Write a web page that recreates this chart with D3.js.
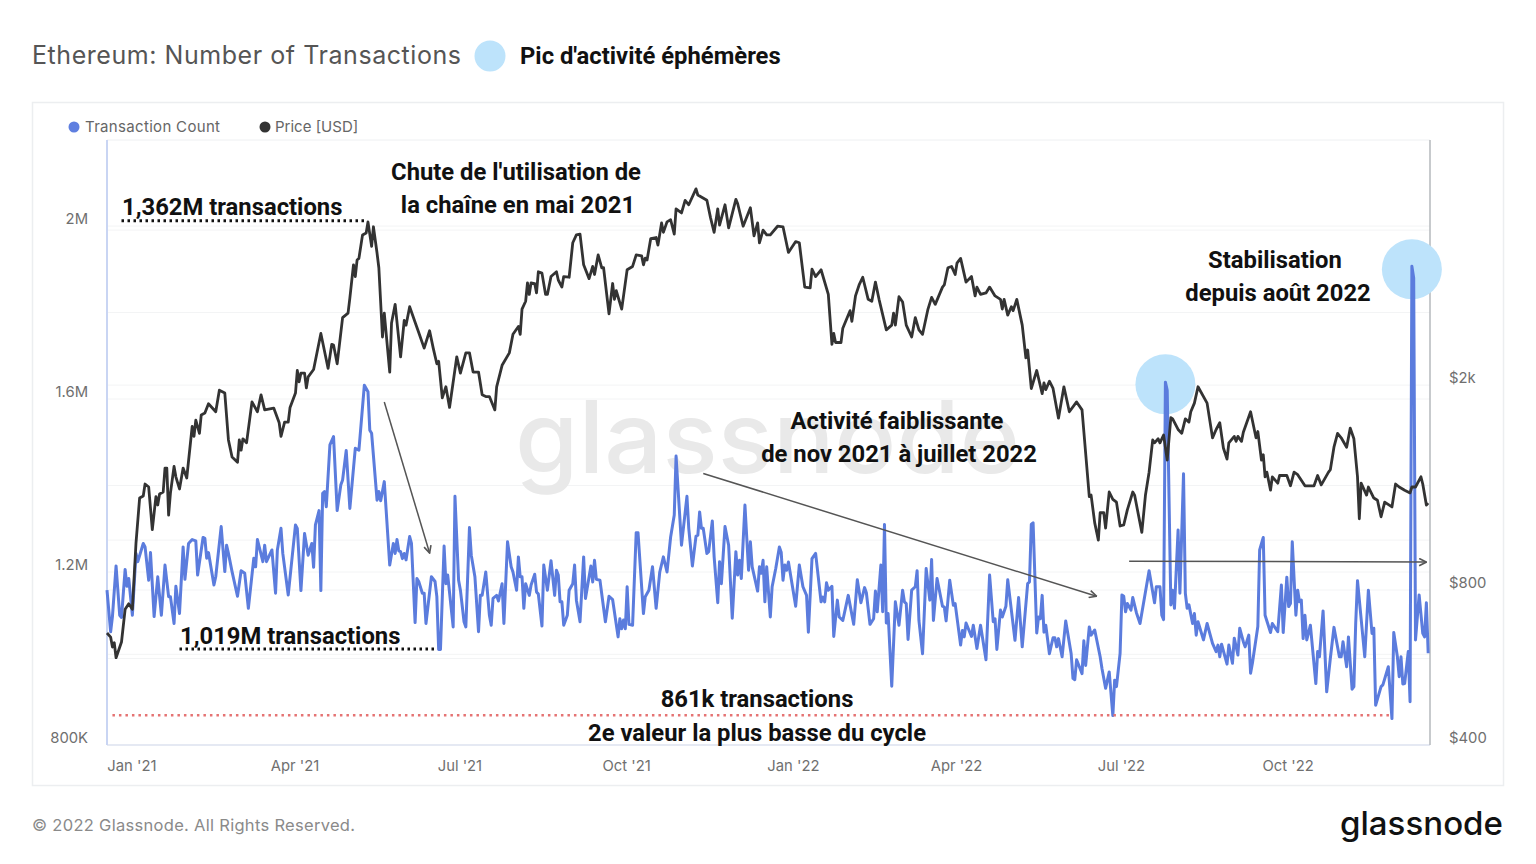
<!DOCTYPE html>
<html>
<head>
<meta charset="utf-8">
<script src="https://cdnjs.cloudflare.com/ajax/libs/d3/7.8.5/d3.min.js"></script>
<style>
  html, body { margin: 0; padding: 0; background: #fff; }
  svg { display: block; }
  text { font-family: Inter, "Noto Sans", sans-serif; }
  .note { font-family: Roboto, sans-serif; font-weight: 700; font-size: 23.8px; fill: #111; }
</style>
</head>
<body>
<svg id="chart" width="1536" height="864"></svg>
<script>
const startDate = Date.UTC(2020, 11, 18);

// [days since startDate, transactions in thousands]
const txSeries = [
  [0,1158],[2,1062],[3,1097],[5,1214],[7,1100],[8,1095],[10,1206],[11,1167],[12,1185],[14,1100],[16,1243],[17,1224],
  [20,1266],[21,1258],[23,1181],[24,1245],[26,1097],[28,1189],[30,1100],[32,1216],[34,1143],[35,1143],[37,1081],[38,1167],
  [40,1104],[42,1258],[43,1183],[45,1266],[47,1275],[49,1272],[50,1193],[53,1280],[54,1278],[55,1232],[56,1245],[59,1170],
  [60,1189],[63,1305],[65,1201],[66,1262],[67,1243],[69,1201],[72,1144],[74,1203],[76,1197],[78,1116],[81,1232],[82,1212],
  [83,1275],[86,1224],[87,1262],[88,1224],[91,1251],[93,1151],[94,1251],[96,1301],[97,1243],[100,1147],[104,1309],[105,1301],
  [107,1157],[109,1289],[111,1239],[113,1266],[114,1211],[115,1309],[117,1342],[118,1157],[119,1382],[120,1386],[121,1351],
  [123,1494],[125,1513],[127,1342],[129,1401],[130,1413],[132,1481],[134,1347],[137,1486],[139,1482],[142,1632],[144,1617],
  [145,1528],[146,1521],[149,1366],[150,1386],[151,1365],[153,1409],[156,1216],[158,1266],[159,1243],[160,1275],[161,1249],
  [162,1247],[163,1231],[164,1243],[165,1228],[167,1282],[168,1266],[170,1083],[171,1185],[172,1178],[174,1151],[175,1151],
  [176,1081],[179,1189],[181,1178],[182,1143],[183,1021],[184,1021],[186,1260],[187,1173],[188,1193],[191,1073],[192,1375],
  [194,1181],[195,1158],[197,1085],[198,1073],[200,1303],[201,1239],[203,1189],[205,1062],[206,1146],[207,1146],[209,1200],
  [211,1100],[212,1077],[213,1139],[215,1146],[216,1133],[218,1173],[219,1081],[221,1270],[223,1212],[224,1200],[226,1158],
  [227,1235],[228,1189],[229,1189],[230,1116],[231,1173],[233,1146],[234,1170],[236,1195],[237,1154],[238,1149],[240,1075],
  [241,1216],[243,1158],[245,1226],[247,1146],[248,1204],[249,1193],[250,1131],[251,1131],[252,1077],[254,1100],[255,1158],
  [257,1173],[258,1216],[259,1135],[261,1085],[263,1235],[264,1139],[267,1214],[268,1177],[269,1227],[270,1183],[272,1181],
  [275,1085],[277,1144],[279,1136],[282,1050],[283,1092],[284,1069],[285,1089],[286,1069],[287,1166],[288,1079],[290,1077],
  [292,1291],[293,1291],[296,1104],[297,1143],[299,1158],[301,1212],[303,1116],[305,1200],[307,1235],[309,1200],[311,1281],
  [313,1332],[314,1468],[317,1262],[320,1375],[321,1301],[323,1214],[325,1283],[326,1285],[327,1339],[328,1301],[329,1301],
  [331,1243],[332,1247],[334,1318],[335,1235],[337,1129],[338,1224],[339,1173],[341,1305],[343,1262],[345,1093],[347,1247],
  [348,1193],[349,1227],[350,1185],[352,1355],[354,1204],[355,1270],[356,1212],[359,1156],[360,1212],[361,1197],[362,1227],
  [363,1131],[364,1212],[366,1096],[367,1166],[369,1208],[371,1258],[372,1246],[373,1181],[374,1216],[375,1204],[376,1223],
  [380,1121],[382,1216],[384,1166],[386,1146],[387,1061],[389,1231],[391,1243],[394,1131],[395,1142],[396,1131],[397,1175],
  [398,1158],[400,1167],[401,1051],[403,1135],[404,1096],[406,1088],[409,1146],[412,1079],[414,1182],[416,1129],[418,1164],
  [419,1152],[421,1079],[423,1092],[424,1156],[425,1108],[427,1216],[428,1108],[429,1310],[430,1082],[431,1104],[433,936],
  [435,1131],[437,1077],[439,1158],[440,1131],[441,1127],[442,1044],[444,1158],[446,1166],[447,1203],[448,1088],[450,1011],
  [452,1208],[454,1135],[455,1229],[456,1088],[458,1185],[461,1121],[462,1119],[463,1087],[465,1181],[467,1123],[468,1127],
  [471,1031],[472,1065],[473,1050],[474,1082],[477,1051],[478,1077],[480,1023],[482,1077],[485,997],[487,1193],[489,1085],
  [490,1092],[491,1021],[493,1112],[494,1096],[496,1121],[497,1182],[501,1042],[503,1141],[505,1027],[508,1173],[509,1177],
  [510,1310],[511,1314],[513,1059],[514,1096],[515,1092],[516,1146],[517,1061],[518,1077],[520,1011],[522,1048],[523,1048],
  [524,1027],[525,1046],[527,1004],[529,1087],[532,1011],[533,954],[534,951],[535,997],[538,965],[539,1041],[540,984],
  [542,1073],[543,1054],[545,1066],[548,1004],[549,977],[551,931],[553,969],[555,868],[556,950],[557,935],[559,1012],
  [560,1147],[561,1144],[562,1108],[563,1127],[565,1112],[566,1141],[568,1106],[570,1081],[575,1203],[578,1129],[579,1166],
  [581,1166],[582,1100],[583,1090],[584,1639],[585,1620],[587,1124],[588,1158],[589,1116],[591,1297],[592,1151],[594,1427],
  [595,1151],[596,1116],[597,1124],[599,1081],[600,1104],[601,1054],[602,1085],[605,1043],[607,1081],[610,1035],[612,1016],
  [613,1031],[614,1004],[615,1033],[618,987],[619,1031],[621,989],[622,1047],[624,1008],[625,1070],[627,1039],[628,1027],
  [630,1054],[631,966],[632,989],[635,1074],[636,1251],[638,1280],[639,1100],[642,1060],[643,1081],[646,1062],[648,1170],
  [649,1060],[651,1188],[652,1120],[653,1127],[654,1270],[656,1100],[657,1158],[658,1131],[659,1135],[660,1046],[661,1100],
  [662,1043],[664,1077],[667,942],[668,1016],[669,1004],[671,1110],[673,923],[675,1000],[677,1072],[680,1004],[681,1004],
  [682,1039],[684,981],[685,1050],[687,929],[688,935],[689,1081],[690,1180],[694,1004],[696,1158],[698,1058],[699,1070],
  [700,892],[703,935],[704,939],[707,981],[709,861],[710,1060],[712,1004],[713,958],[714,1004],[715,941],[716,942],
  [718,1016],[719,900],[720,1907],[721,1880],[722,1043],[724,1147],[726,1058],[727,1050],[728,1129],[729,1012]
];

// [days since startDate, ETH price in USD]
const priceSeries = [
  [0,660],[2,648],[3,620],[4,632],[5,591],[8,634],[10,734],[12,752],[14,734],[16,987],[18,1207],[20,1218],[21,1285],[23,1268],
  [25,1048],[27,1215],[28,1170],[29,1229],[31,1240],[32,1380],[33,1380],[34,1118],[35,1234],[37,1390],[38,1327],[40,1257],
  [42,1380],[44,1320],[47,1662],[48,1590],[49,1710],[51,1612],[52,1750],[54,1765],[56,1840],[60,1775],[62,1955],[65,1930],
  [67,1565],[69,1450],[72,1416],[73,1565],[74,1495],[75,1573],[77,1545],[80,1855],[83,1775],[85,1915],[87,1790],[92,1805],
  [95,1690],[96,1590],[98,1695],[100,1695],[101,1810],[104,1930],[105,2135],[106,2030],[107,2110],[109,2110],[110,1975],
  [111,2075],[114,2145],[118,2520],[122,2155],[124,2400],[125,2392],[127,2200],[130,2705],[133,2760],[134,2950],[136,3425],
  [137,3250],[138,3500],[139,3525],[141,3915],[143,3950],[144,4150],[146,3720],[147,4060],[149,3610],[150,3380],[152,2480],
  [153,2760],[156,2120],[157,2640],[159,2870],[162,2270],[164,2670],[165,2615],[167,2840],[170,2650],[172,2530],[175,2360],
  [178,2550],[180,2360],[182,2200],[183,2225],[185,1890],[187,1985],[189,1810],[193,2270],[195,2110],[198,2310],[200,2310],
  [202,2120],[205,2120],[207,1915],[209,1900],[211,1900],[214,1790],[215,1985],[218,2185],[222,2310],[224,2510],[227,2600],
  [228,2510],[229,2810],[231,2910],[232,3160],[233,3000],[234,3160],[236,3150],[237,3020],[238,3320],[240,3300],[242,3000],
  [243,3000],[245,3250],[248,3320],[249,3200],[251,3100],[252,3250],[255,3240],[257,3780],[259,3915],[261,3930],[263,3425],
  [266,3220],[268,3400],[269,3280],[271,3580],[273,3380],[274,3380],[277,2750],[279,3150],[280,2935],[281,3050],[284,2810],
  [287,3350],[290,3400],[292,3580],[295,3565],[296,3425],[297,3530],[298,3500],[300,3850],[303,3870],[304,3740],[306,4130],
  [307,3960],[309,4150],[311,4190],[313,3930],[314,4400],[317,4320],[319,4570],[321,4480],[325,4810],[326,4680],[331,4570],
  [333,4230],[335,3960],[337,4400],[338,4090],[341,4480],[343,4040],[347,4590],[348,4500],[351,4070],[355,4420],[357,3900],
  [359,4130],[360,3780],[362,4000],[364,3915],[366,3915],[370,4070],[373,4060],[376,3620],[380,3800],[382,3780],[385,3100],
  [388,3090],[389,3360],[391,3250],[394,3350],[398,3000],[400,2400],[401,2520],[402,2420],[405,2420],[406,2580],[410,2790],
  [411,2660],[413,2980],[415,3130],[417,3240],[420,2935],[422,2910],[424,3170],[426,2935],[430,2560],[433,2615],[434,2760],
  [435,2615],[437,2970],[439,2900],[441,2615],[444,2480],[446,2705],[448,2560],[450,2510],[453,2810],[455,2960],[457,2870],
  [461,3100],[462,3130],[464,3380],[466,3400],[468,3280],[469,3450],[471,3525],[474,3170],[477,3250],[479,2980],[480,3100],
  [482,3000],[485,3020],[487,3100],[490,2980],[493,2935],[494,2810],[495,2935],[497,2735],[499,2840],[500,2790],[502,2935],
  [505,2615],[507,2260],[508,2340],[510,1970],[513,2135],[516,1925],[517,2020],[518,1960],[520,2035],[522,1970],[525,1725],
  [528,1985],[531,1775],[535,1855],[538,1790],[542,1215],[543,1223],[545,1080],[547,1000],[548,1130],[550,1130],[551,1055],
  [553,1240],[555,1200],[557,1185],[559,1065],[561,1070],[563,1145],[566,1240],[567,1223],[571,1035],[573,1223],[575,1355],
  [577,1565],[578,1545],[580,1573],[581,1545],[583,1600],[585,1430],[587,1730],[588,1720],[591,1640],[593,1612],[595,1720],
  [597,1695],[598,1775],[600,1845],[602,1985],[607,1845],[610,1580],[612,1640],[614,1690],[616,1510],[618,1436],[619,1545],
  [622,1590],[623,1555],[624,1590],[626,1555],[627,1620],[631,1775],[634,1580],[635,1625],[637,1430],[638,1465],[639,1327],
  [640,1355],[642,1250],[643,1327],[646,1290],[647,1335],[651,1335],[653,1275],[655,1355],[657,1340],[661,1275],[666,1275],
  [668,1335],[670,1280],[674,1355],[675,1370],[677,1515],[679,1612],[681,1580],[684,1515],[686,1650],[688,1573],[690,1327],
  [691,1100],[692,1290],[695,1223],[696,1268],[699,1207],[701,1195],[703,1110],[705,1185],[709,1160],[711,1285],[713,1268],
  [716,1250],[719,1235],[720,1268],[722,1268],[725,1327],[726,1285],[728,1170],[729,1180]
];

const txTicks = [800, 1200, 1600, 2000];
const txGrid = [800, 1000, 1200, 1400, 1600, 1800, 2000];
const priceTicks = [400, 800, 2000];
const priceGrid = [400, 600, 800, 1000, 2000, 4000];
const monthTicks = [[2021, 0], [2021, 3], [2021, 6], [2021, 9], [2022, 0], [2022, 3], [2022, 6], [2022, 9]];

const peakCircles = [[584, 1634], [720, 1900]];

const svg = d3.select("#chart");
const dayMs = 86400000;
const plotLeft = 107, plotRight = 1430, plotTop = 140, plotBottom = 745;

const x = d3.scaleUtc()
  .domain([new Date(startDate), new Date(startDate + 730 * dayMs)])
  .range([plotLeft, plotRight]);
const dayX = d => x(new Date(startDate + d * dayMs));
const yTx = d3.scaleLinear().domain([800, 2199]).range([plotBottom, plotTop]);
const yPrice = d3.scaleLog().domain([400, 5985]).range([plotBottom, plotTop]);

// frame
svg.append("rect").attr("x", 32.5).attr("y", 102.5).attr("width", 1471).attr("height", 683)
  .attr("fill", "#fff").attr("stroke", "#eceef0").attr("stroke-width", 1.5);

// title row
svg.append("text").attr("x", 32).attr("y", 64).attr("font-size", 25).attr("fill", "#555")
  .attr("textLength", 429).text("Ethereum: Number of Transactions");
svg.append("circle").attr("cx", 490).attr("cy", 56).attr("r", 15.5).attr("fill", "#bde3fb");
svg.append("text").attr("class", "note").attr("x", 520).attr("y", 64)
  .text("Pic d'activité éphémères");

// legend
svg.append("circle").attr("cx", 74).attr("cy", 127).attr("r", 5.5).attr("fill", "#5f7fe0");
svg.append("text").attr("x", 85).attr("y", 132).attr("font-size", 15).attr("fill", "#666")
  .attr("textLength", 135).text("Transaction Count");
svg.append("circle").attr("cx", 265).attr("cy", 127).attr("r", 5.5).attr("fill", "#333");
svg.append("text").attr("x", 275).attr("y", 132).attr("font-size", 15).attr("fill", "#666").text("Price [USD]");

// gridlines
svg.append("g").selectAll("line").data(txGrid).enter().append("line")
  .attr("x1", plotLeft).attr("x2", plotRight).attr("y1", yTx).attr("y2", yTx)
  .attr("stroke", "#f3f4f5");
svg.append("g").selectAll("line").data(priceGrid).enter().append("line")
  .attr("x1", plotLeft).attr("x2", plotRight).attr("y1", yPrice).attr("y2", yPrice)
  .attr("stroke", "#f3f4f5");

// plot edges
svg.append("line").attr("x1", plotLeft).attr("x2", plotRight).attr("y1", plotTop).attr("y2", plotTop).attr("stroke", "#eef0f2");
svg.append("line").attr("x1", plotLeft).attr("x2", plotRight).attr("y1", plotBottom).attr("y2", plotBottom).attr("stroke", "#dfe5f2").attr("stroke-width", 1.5);
svg.append("line").attr("x1", plotLeft).attr("x2", plotLeft).attr("y1", plotTop).attr("y2", plotBottom).attr("stroke", "#c9d5f3").attr("stroke-width", 2);
svg.append("line").attr("x1", plotRight).attr("x2", plotRight).attr("y1", plotTop).attr("y2", plotBottom).attr("stroke", "#b4b8bd").attr("stroke-width", 1.5);

// watermark
svg.append("text").attr("x", 515).attr("y", 473).attr("font-size", 100).attr("font-weight", 500).attr("fill", "#e9e9e9")
  .attr("textLength", 505).attr("lengthAdjust", "spacingAndGlyphs").text("glassnode");

// highlight circles behind the spikes
svg.append("g").selectAll("circle").data(peakCircles).enter().append("circle")
  .attr("cx", d => dayX(d[0]))
  .attr("cy", d => yTx(d[1]))
  .attr("r", 30)
  .attr("fill", "#bde3fb");

// axes
const fmtTx = d => d >= 1000 ? `${d / 1000}M` : `${d}K`;
const fmtPrice = d => d >= 1000 ? `$${d / 1000}k` : `$${d}`;
const fmtMonth = d3.utcFormat("%b '%y");

const axisLeft = svg.append("g").attr("transform", `translate(88,-7)`)
  .call(d3.axisLeft(yTx).tickValues(txTicks).tickFormat(fmtTx).tickSize(0).tickPadding(0));
const axisRight = svg.append("g").attr("transform", `translate(1449,-7)`)
  .call(d3.axisRight(yPrice).tickValues(priceTicks).tickFormat(fmtPrice).tickSize(0).tickPadding(0));
const axisBottom = svg.append("g").attr("transform", `translate(-1,${plotBottom + 15})`)
  .call(d3.axisBottom(x).tickValues(monthTicks.map(m => new Date(Date.UTC(m[0], m[1], 1)))).tickFormat(fmtMonth).tickSize(0).tickPadding(0));

[axisLeft, axisRight, axisBottom].forEach(g => {
  g.select(".domain").remove();
  g.selectAll("text").attr("font-family", "Inter, sans-serif").attr("font-size", 14.8).attr("fill", "#6f6f6f");
});

// series
const lineTx = d3.line().x(d => dayX(d[0])).y(d => yTx(d[1]));
const linePrice = d3.line().x(d => dayX(d[0])).y(d => yPrice(d[1]));

svg.append("path").datum(txSeries).attr("d", lineTx).attr("fill", "none")
  .attr("stroke", "#5b7cdd").attr("stroke-width", 3).attr("stroke-linejoin", "round");
svg.append("path").datum(priceSeries).attr("d", linePrice).attr("fill", "none")
  .attr("stroke", "#333").attr("stroke-width", 2.8).attr("stroke-linejoin", "round");

// dotted level lines
const levels = [
  { from: 8, to: 142, value: 2012, color: "#111", width: 3, dash: "2.5 3.5" },
  { from: 40, to: 182, value: 1022, color: "#111", width: 3, dash: "2.5 3.5" },
  { from: 3, to: 708, value: 869, color: "#e57373", width: 2.5, dash: "2.5 4" }
];
svg.append("g").selectAll("line").data(levels).enter().append("line")
  .attr("x1", d => dayX(d.from)).attr("x2", d => dayX(d.to))
  .attr("y1", d => yTx(d.value)).attr("y2", d => yTx(d.value))
  .attr("stroke", d => d.color).attr("stroke-width", d => d.width).attr("stroke-dasharray", d => d.dash);

// arrows
svg.append("defs").append("marker").attr("id", "head")
  .attr("viewBox", "0 0 10 10").attr("refX", 9).attr("refY", 5)
  .attr("markerWidth", 6).attr("markerHeight", 6).attr("orient", "auto")
  .append("path").attr("d", "M1,1L9,5L1,9").attr("fill", "none").attr("stroke", "#555").attr("stroke-width", 1.8);

const arrows = [
  { d1: 153, v1: 1593, d2: 178, v2: 1244 },
  { d1: 329, v1: 1428, d2: 546, v2: 1144 },
  { d1: 564, v1: 1225, d2: 728, v2: 1223 }
];
svg.append("g").selectAll("line").data(arrows).enter().append("line")
  .attr("x1", d => dayX(d.d1)).attr("y1", d => yTx(d.v1))
  .attr("x2", d => dayX(d.d2)).attr("y2", d => yTx(d.v2))
  .attr("stroke", "#555").attr("stroke-width", 1.5).attr("marker-end", "url(#head)");

// annotations
const notes = [
  { text: "1,362M transactions", px: 122, py: 215, anchor: "start" },
  { text: "Chute de l'utilisation de", px: 516, py: 180, anchor: "middle" },
  { text: "la chaîne en mai 2021", px: 518, py: 213, anchor: "middle" },
  { text: "1,019M transactions", px: 180, py: 644, anchor: "start" },
  { text: "Activité faiblissante", px: 897, py: 429, anchor: "middle" },
  { text: "de nov 2021 à juillet 2022", px: 899, py: 462, anchor: "middle" },
  { text: "Stabilisation", px: 1275, py: 268, anchor: "middle" },
  { text: "depuis août 2022", px: 1278, py: 301, anchor: "middle" },
  { text: "861k transactions", px: 757, py: 707, anchor: "middle" },
  { text: "2e valeur la plus basse du cycle", px: 757, py: 741, anchor: "middle" }
];
svg.append("g").selectAll("text").data(notes).enter().append("text")
  .attr("class", "note")
  .attr("x", d => d.px).attr("y", d => d.py)
  .attr("text-anchor", d => d.anchor)
  .text(d => d.text);

// footer
svg.append("text").attr("x", 32).attr("y", 831).attr("font-size", 16.5).attr("fill", "#8a8a8a")
  .attr("textLength", 323).text("© 2022 Glassnode. All Rights Reserved.");
svg.append("text").attr("x", 1340).attr("y", 835).attr("font-size", 33)
  .attr("font-weight", 500).attr("fill", "#111").attr("textLength", 163).attr("lengthAdjust", "spacingAndGlyphs")
  .text("glassnode");
</script>
</body>
</html>
